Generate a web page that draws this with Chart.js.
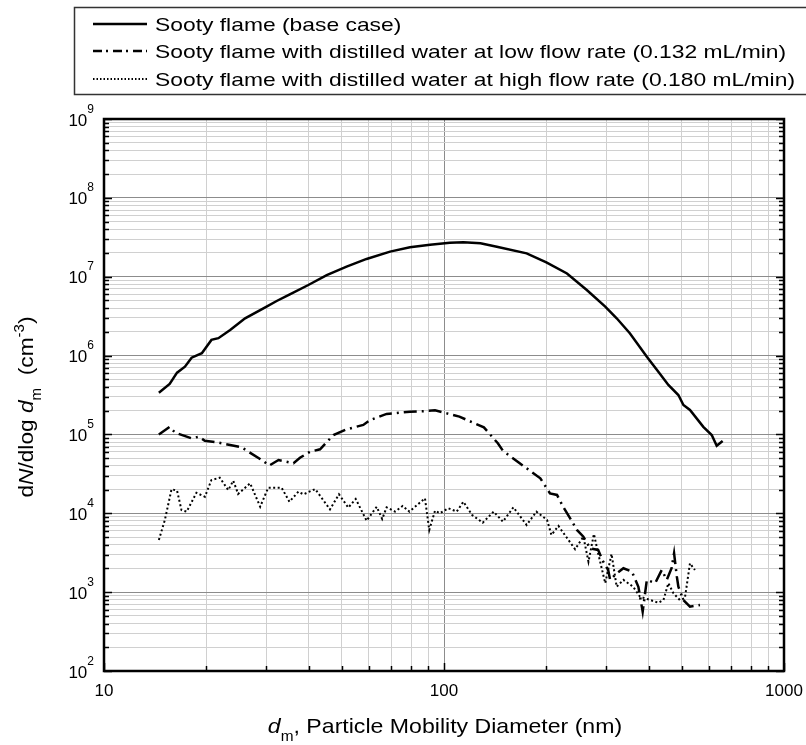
<!DOCTYPE html>
<html>
<head>
<meta charset="utf-8">
<title>Particle size distribution</title>
<script src="https://cdn.jsdelivr.net/npm/chart.js@4.4.0/dist/chart.umd.min.js"></script>
<style>
  html, body { margin: 0; padding: 0; background: #fff; }
  #wrap { width: 806px; height: 745px; }
</style>
</head>
<body>
<div id="wrap"><canvas id="psdChart" width="806" height="745"></canvas></div>
<script>
// ============================================
// DATA (mobility diameter in nm, dN/dlog dm in cm^-3)
// ============================================

// Sooty flame, base case
const baseDiam = [14.5, 15.6, 16.4, 17.3, 18.1, 19.4, 20.7, 21.7, 23.5, 26.0, 29.8, 32.2, 35.2, 39.9, 45.2, 51.7, 59.2, 69.4, 79.4, 91.0, 104, 114, 128, 143, 175, 200, 230, 263, 298, 322, 352, 395, 427, 457, 489, 506, 529, 579, 613, 634, 660];
const baseConc = [3.38e5, 4.36e5, 6.07e5, 7.23e5, 9.40e5, 1.07e6, 1.58e6, 1.66e6, 2.11e6, 2.97e6, 4.09e6, 4.92e6, 5.98e6, 7.85e6, 1.05e7, 1.34e7, 1.68e7, 2.08e7, 2.36e7, 2.55e7, 2.70e7, 2.73e7, 2.65e7, 2.40e7, 1.98e7, 1.52e7, 1.10e7, 6.79e6, 4.17e6, 2.97e6, 1.92e6, 9.68e5, 6.25e5, 4.24e5, 3.16e5, 2.36e5, 2.04e5, 1.25e5, 9.84e4, 7.20e4, 8.26e4];

// Distilled water, low flow rate
const lowDiam = [14.5, 15.6, 16.2, 18.1, 19.0, 19.8, 21.5, 25.4, 26.6, 29.4, 30.6, 32.6, 36.1, 37.7, 40.4, 43.2, 47.3, 51.7, 57.9, 60.6, 67.8, 79.4, 86.9, 94.1, 102, 111, 131, 144, 149, 167, 192, 205, 215, 224, 235, 246, 257, 269, 284, 294, 304, 308, 322, 337, 357, 373, 384, 395, 418, 437, 452, 467, 475, 484, 489, 506, 529, 566];
const lowConc = [1.00e5, 1.25e5, 1.05e5, 8.93e4, 9.36e4, 8.33e4, 7.95e4, 6.87e4, 6.04e4, 4.60e4, 4.02e4, 4.74e4, 4.31e4, 5.07e4, 6.04e4, 6.48e4, 9.84e4, 1.16e5, 1.32e5, 1.52e5, 1.82e5, 1.94e5, 1.97e5, 2.02e5, 1.85e5, 1.68e5, 1.23e5, 7.72e4, 6.22e4, 4.31e4, 2.78e4, 1.79e4, 1.71e4, 1.21e4, 8.64e3, 6.14e3, 5.05e3, 3.60e3, 3.43e3, 2.43e3, 1.91e3, 1.43e3, 1.73e3, 2.01e3, 1.82e3, 1.17e3, 5.65e2, 1.43e3, 1.30e3, 1.91e3, 1.43e3, 2.01e3, 3.11e3, 1.57e3, 1.17e3, 7.95e2, 6.54e2, 6.87e2];

// Distilled water, high flow rate
const highDiam = [14.5, 15.1, 15.8, 16.4, 16.9, 17.5, 18.7, 19.8, 20.7, 21.9, 23.2, 24.0, 24.8, 26.9, 28.8, 30.4, 33.3, 35.1, 37.3, 38.6, 41.8, 46.2, 49.1, 52.3, 55.0, 59.2, 63.4, 65.8, 67.8, 71.8, 75.6, 79.1, 87.9, 90.5, 94.1, 97.3, 103, 109, 114, 121, 130, 140, 149, 160, 175, 187, 201, 207, 217, 243, 257, 266, 276, 284, 298, 311, 322, 337, 360, 377, 427, 442, 457, 473, 494, 511, 529, 547];
const highConc = [4.59e3, 8.22e3, 2.02e4, 1.94e4, 1.10e4, 1.05e4, 1.82e4, 1.62e4, 2.64e4, 2.83e4, 1.97e4, 2.59e4, 1.76e4, 2.40e4, 1.21e4, 2.11e4, 2.11e4, 1.40e4, 1.88e4, 1.74e4, 2.03e4, 1.12e4, 1.74e4, 1.18e4, 1.52e4, 8.06e3, 1.21e4, 8.47e3, 1.19e4, 1.05e4, 1.24e4, 1.05e4, 1.55e4, 6.14e3, 1.08e4, 1.00e4, 1.16e4, 1.05e4, 1.40e4, 9.51e3, 7.60e3, 1.05e4, 7.83e3, 1.19e4, 7.11e3, 1.05e4, 8.22e3, 5.31e3, 6.90e3, 3.50e3, 5.05e3, 2.43e3, 5.46e3, 3.11e3, 1.30e3, 3.05e3, 1.17e3, 1.43e3, 1.17e3, 8.76e2, 7.35e2, 7.95e2, 1.30e3, 9.67e2, 7.95e2, 8.36e2, 2.32e3, 1.91e3];

// Axis labels
const xTickValues = [10, 100, 1000];
const xTickLabels = ['10', '100', '1000'];
const yTickExponents = [2, 3, 4, 5, 6, 7, 8, 9];

const seriesLabels = [
    'Sooty flame (base case)',
    'Sooty flame with distilled water at low flow rate (0.132 mL/min)',
    'Sooty flame with distilled water at high flow rate (0.180 mL/min)'
];

const FONT = '"Liberation Sans", Arial, Helvetica, sans-serif';

// ============================================
// HELPERS
// ============================================

function toPoints(xs, ys) {
    return xs.map((x, i) => ({ x: x, y: ys[i] }));
}

// every 1..9 x 10^n between two decades
function logTicks(minExp, maxExp) {
    const ticks = [];
    for (let e = minExp; e < maxExp; e++) {
        for (let m = 1; m < 10; m++) {
            ticks.push({ value: m * Math.pow(10, e) });
        }
    }
    ticks.push({ value: Math.pow(10, maxExp) });
    return ticks;
}

function isDecade(v) {
    const l = Math.log10(v);
    return Math.abs(l - Math.round(l)) < 1e-6;
}

function fontFor(p) {
    return (p.italic ? 'italic ' : '') + p.size + 'px ' + FONT;
}

// draws a run of text pieces (sub/superscripts via shift);
// stretch widens the run horizontally, the labels are set a bit wide
function drawRich(ctx, parts, x, y, align, stretch) {
    const sx = stretch || 1;
    const widths = parts.map(p => {
        ctx.font = fontFor(p);
        return ctx.measureText(p.text).width;
    });
    const total = widths.reduce((a, b) => a + b, 0) * sx;
    let startX = x;
    if (align === 'center') startX = x - total / 2;
    if (align === 'right') startX = x - total;

    ctx.save();
    ctx.translate(startX, y);
    ctx.scale(sx, 1);
    ctx.textAlign = 'left';
    ctx.textBaseline = 'alphabetic';
    let cx = 0;
    parts.forEach((p, i) => {
        ctx.font = fontFor(p);
        ctx.fillText(p.text, cx, p.shift || 0);
        cx += widths[i];
    });
    ctx.restore();
}

// ============================================
// FRAME, TICKS, LABELS, LEGEND
// ============================================

const decorations = {
    id: 'decorations',
    afterDraw(chart) {
        const ctx = chart.ctx;
        const area = chart.chartArea;
        const xs = chart.scales.x;
        const ys = chart.scales.y;

        ctx.save();
        ctx.fillStyle = '#000';
        ctx.strokeStyle = '#000';

        // inward tick marks
        ctx.lineWidth = 1.5;
        ctx.beginPath();
        xs.ticks.forEach(t => {
            const px = Math.round(xs.getPixelForValue(t.value)) + 0.5;
            const len = isDecade(t.value) ? 8 : 5;
            ctx.moveTo(px, area.bottom);
            ctx.lineTo(px, area.bottom - len);
        });
        ys.ticks.forEach(t => {
            const py = Math.round(ys.getPixelForValue(t.value)) + 0.5;
            const len = isDecade(t.value) ? 8 : 5;
            ctx.moveTo(area.left, py);
            ctx.lineTo(area.left + len, py);
            ctx.moveTo(area.right, py);
            ctx.lineTo(area.right - len, py);
        });
        ctx.stroke();

        // axis frame
        ctx.lineWidth = 2.5;
        ctx.strokeRect(area.left, area.top, area.right - area.left, area.bottom - area.top);

        // x tick labels
        ctx.font = '17px ' + FONT;
        ctx.textAlign = 'center';
        ctx.textBaseline = 'alphabetic';
        xTickValues.forEach((v, i) => {
            ctx.fillText(xTickLabels[i], xs.getPixelForValue(v), area.bottom + 25);
        });

        // y tick labels, 10 with a raised exponent
        yTickExponents.forEach(e => {
            const py = ys.getPixelForValue(Math.pow(10, e));
            drawRich(ctx, [
                { text: '10', size: 17 },
                { text: String(e), size: 12, shift: -13 }
            ], area.left - 10, py + 6.5, 'right');
        });

        // x axis title
        const xMid = (area.left + area.right) / 2;
        drawRich(ctx, [
            { text: 'd', size: 21, italic: true },
            { text: 'm', size: 14, shift: 8 },
            { text: ', Particle Mobility Diameter (nm)', size: 21 }
        ], xMid + 1, area.bottom + 62, 'center', 1.1);

        // y axis title, rotated
        const yMid = (area.top + area.bottom) / 2 + 12;
        ctx.translate(33, yMid);
        ctx.rotate(-Math.PI / 2);
        drawRich(ctx, [
            { text: 'd', size: 21 },
            { text: 'N', size: 21, italic: true },
            { text: '/dlog ', size: 21 },
            { text: 'd', size: 21, italic: true },
            { text: 'm', size: 14, shift: 8 },
            { text: '  (cm', size: 21 },
            { text: '-3', size: 14, shift: -9 },
            { text: ')', size: 21 }
        ], 0, 0, 'center', 1.08);
        ctx.setTransform(1, 0, 0, 1, 0, 0);

        // legend box
        ctx.lineWidth = 1.5;
        ctx.strokeStyle = '#333';
        ctx.strokeRect(74.5, 7.5, 760, 87);

        const rowY = [24, 51, 79];
        ctx.font = '19px ' + FONT;
        const legendStretch = 640 / ctx.measureText(seriesLabels[2]).width;
        chart.data.datasets.forEach((ds, i) => {
            ctx.strokeStyle = '#000';
            ctx.lineWidth = ds.borderWidth;
            ctx.setLineDash(ds.legendDash || []);
            ctx.beginPath();
            ctx.moveTo(93, rowY[i]);
            ctx.lineTo(147, rowY[i]);
            ctx.stroke();
            ctx.setLineDash([]);

            drawRich(ctx, [{ text: seriesLabels[i], size: 19 }], 155, rowY[i] + 7, 'left', legendStretch);
        });

        ctx.restore();
    }
};

// ============================================
// CHART
// ============================================

const canvas = document.getElementById('psdChart');

new Chart(canvas, {
    type: 'scatter',
    data: {
        datasets: [
            {
                label: seriesLabels[0],
                data: toPoints(baseDiam, baseConc),
                borderColor: '#000',
                borderWidth: 2.5,
                legendDash: []
            },
            {
                label: seriesLabels[1],
                data: toPoints(lowDiam, lowConc),
                borderColor: '#000',
                borderWidth: 2.5,
                borderDash: [13, 5, 2, 5],
                legendDash: [9, 4, 2, 5]
            },
            {
                label: seriesLabels[2],
                data: toPoints(highDiam, highConc),
                borderColor: '#000',
                borderWidth: 2,
                borderDash: [2, 2.5],
                legendDash: [1.5, 2]
            }
        ].map(ds => Object.assign(ds, {
            showLine: true,
            fill: false,
            tension: 0,
            pointRadius: 0,
            pointHoverRadius: 0
        }))
    },
    options: {
        responsive: false,
        animation: false,
        devicePixelRatio: 1,
        events: [],
        layout: {
            autoPadding: false,
            padding: { left: 104, right: 22, top: 119, bottom: 74 }
        },
        plugins: {
            legend: { display: false },
            tooltip: { enabled: false }
        },
        scales: {
            x: {
                type: 'logarithmic',
                min: 10,
                max: 1000,
                afterBuildTicks: scale => { scale.ticks = logTicks(1, 3); },
                ticks: { display: false },
                border: { display: false },
                grid: {
                    drawTicks: false,
                    lineWidth: 1,
                    color: c => (c.tick && isDecade(c.tick.value)) ? '#8c8c8c' : '#d0d0d0'
                }
            },
            y: {
                type: 'logarithmic',
                min: 1e2,
                max: 1e9,
                afterBuildTicks: scale => { scale.ticks = logTicks(2, 9); },
                ticks: { display: false },
                border: { display: false },
                grid: {
                    drawTicks: false,
                    lineWidth: 1,
                    color: c => (c.tick && isDecade(c.tick.value)) ? '#8c8c8c' : '#d0d0d0'
                }
            }
        }
    },
    plugins: [decorations]
});
</script>
</body>
</html>
